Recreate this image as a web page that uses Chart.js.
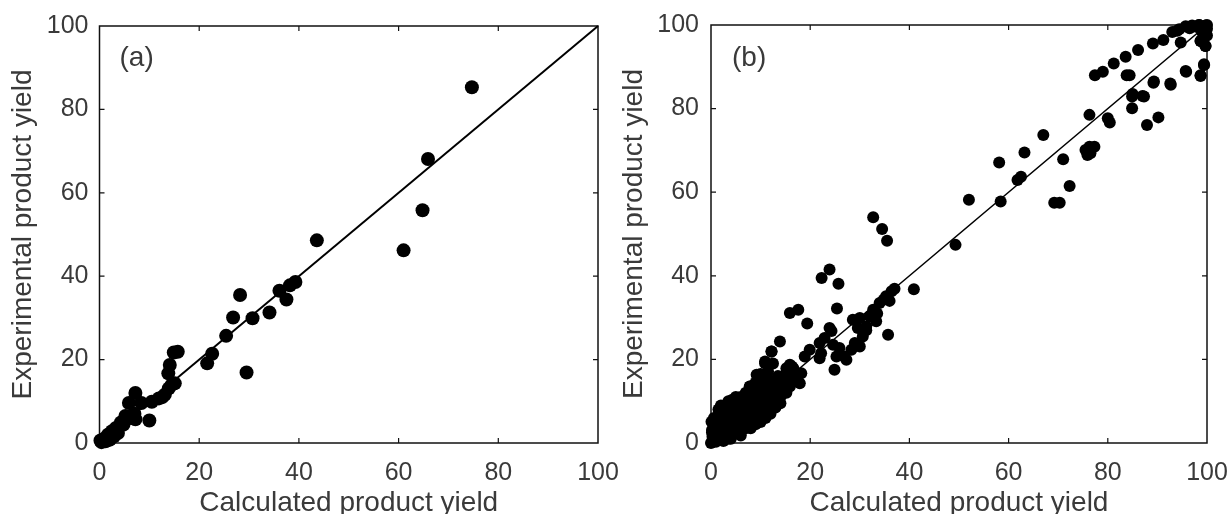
<!DOCTYPE html>
<html><head><meta charset="utf-8">
<script src="https://cdn.jsdelivr.net/npm/chart.js@4.4.0/dist/chart.umd.min.js"></script>
<style>
html,body{margin:0;padding:0;background:#fff;width:1228px;height:514px;overflow:hidden}
.box{position:absolute;top:0;height:514px}
</style></head><body>
<div class="box" style="left:0;width:660px"><canvas id="ca" width="660" height="514"></canvas></div>
<div class="box" style="left:614px;width:614px"><canvas id="cb" width="614" height="514"></canvas></div>
<script>
const axisMin = 0, axisMax = 100, tickStep = 20;
const tickValues = [0, 20, 40, 60, 80, 100];
const xTitle = "Calculated product yield";
const yTitle = "Experimental product yield";
const panelLabels = ["(a)", "(b)"];
const diagX = [0, 100];
const diagY = [0, 100];

// Panel (a): calculated vs experimental
const aCalc = [74.7,65.9,64.8,61.0,43.6,39.3,38.2,36.1,37.5,34.1,28.2,30.7,26.8,25.4,29.5,22.6,21.6,15.7,14.9,14.1,13.8,15.1,13.9,13.1,11.9,10.5,8.4,7.2,5.9,10.0,7.2,5.2,4.3,3.3,2.5,1.7,0.9,0.4,3.7,2.9,2.1,1.2,0.2,4.8,5.8,7.0,12.6,14.5];
const aExp  = [85.3,68.1,55.8,46.2,48.6,38.6,37.8,36.5,34.4,31.3,35.5,29.9,30.1,25.7,16.9,21.4,19.1,21.9,21.7,18.7,16.7,14.3,13.1,11.6,10.7,9.9,9.6,12.0,9.6,5.4,5.7,6.5,4.9,3.6,2.8,2.0,1.0,0.2,2.4,1.6,0.8,0.4,0.6,4.4,5.9,7.0,11.0,14.0];

// Panel (b)
const bCalc = [95.7,97.0,98.4,99.7,100,99.0,100,98.7,99.7,94.7,93.0,94.0,91.2,89.1,86.1,83.6,81.2,79.0,77.4,83.8,89.3,92.7,95.8,98.7,99.4,84.9,87.3,84.9,87.9,90.2,80.0,80.4,76.3,96.5,98.0,99.3,94.4,96.4,98.4,100,99.4,98.7,99.7,99.4,98.7,95.7,92.6,89.2,84.4,85.0,87.0,
67.0,63.2,61.8,62.5,58.1,58.4,52.0,71.0,72.3,69.2,70.3,75.5,76.3,77.3,75.9,76.5,49.3,32.7,34.5,35.5,40.9,
22.3,23.9,25.7,15.9,17.6,19.4,25.4,13.9,35.7,36.4,37.0,35.3,34.0,32.7,32.0,30.0,28.6,29.6,31.3,33.3,30.6,29.0,30.0,23.9,22.9,21.9,19.9,18.9,24.6,25.9,25.3,26.9,28.3,24.9,27.3,21.9,18.2,16.6,15.2,14.6,15.9,17.9,34.8,36.0,33.5,31.3,24.3,22.2,16.3,12.2,10.9,11.5,9.5,8.8,7.8,
15.9,15.2,13.9,12.9,15.9,15.2,13.2,11.9,10.5,9.2,4.5,3.5,2.5,0.5,0.2,1.8,5.8,7.2,11.2,
0,0.3,0.5,0.8,0.4,0.6,0.5,1.0,1.5,1.2,1.5,2.0,2.0,2.5,3.0,3.0,3.5,4.0,4.0,4.5,4.5,5.0,5.0,5.0,5.5,6.0,6.0,6.5,7.0,7.0,7.5,8.0,8.0,8.5,9.0,9.2,10.0,10.0,10.5,11.0,11.0,12.0,12.0,12.5,13.0,13.5,2.5,3.5,1.0,6.0,7.0,8.0,1.8,2.8,3.3,0.2,1.2,
1,1,2,2,2,3,3,3,3,4,4,4,4,5,5,5,5,6,6,6,6,7,7,7,7,8,8,8,8,9,9,9,9,10,10,10,10,11,11,11,12,12,12,13,13,14,14,14.5,16,17,13,11.5,10,12.5,9,2,4,6,1,0.3,0.6,2,3.5,1.5,17.2,14.6,0.1,4.2,7.9,9.2,10.9,12.2];
const bExp  = [99.7,99.9,100,99.9,99.1,98.3,97.5,96.2,95.0,95.8,98.3,98.6,96.4,95.6,94.0,92.4,90.8,88.8,88.0,88.0,86.5,85.7,88.8,88.0,90.4,82.9,82.9,80.1,76.1,77.9,77.7,76.7,78.5,99.2,99.5,97.0,99.0,99.6,100,100,98.2,96.2,95.0,90.6,87.8,89.0,86.0,86.2,88.0,83.5,83.0,
73.7,69.5,62.9,63.7,67.1,57.8,58.2,67.9,61.5,57.5,57.5,70.1,70.9,70.9,68.9,69.3,47.4,54.0,51.2,48.4,36.8,
39.5,41.5,38.1,31.1,31.9,28.6,32.2,24.3,25.9,36.3,36.9,35.1,33.5,31.9,30.3,29.9,29.5,27.5,27.9,29.1,25.5,23.9,23.1,27.5,25.1,23.9,22.3,20.7,23.5,22.7,20.7,20.7,22.3,17.5,19.9,20.3,16.7,17.9,17.9,15.9,14.3,14.3,34.3,34.0,31.0,27.0,26.8,21.5,18.3,21.9,19.5,17.1,15.9,13.9,13.5,
18.7,16.3,14.7,13.1,13.5,12.0,11.2,10.3,9.5,7.9,10.3,8.8,7.2,4.7,3.1,4.7,8.0,10.3,7.9,
0,0.5,1.2,2.0,3.0,4.0,5.0,4.5,5.0,3.0,1.5,1.0,2.5,3.5,2.0,4.5,6.0,3.0,5.0,8.0,10.0,9.5,7.0,4.0,3.0,5.0,8.0,10.0,6.0,4.0,8.0,5.5,10.5,7.0,4.5,8.0,6.0,9.5,11.0,7.0,13.0,9.0,11.0,13.0,10.5,16.0,0.5,1.0,0.3,2.5,3.5,4.0,6.0,7.0,8.5,2.5,1.8,
2,6,3,5,7,1.5,3,6,8,2,4,6,9,2.5,5.5,8,11,3,6,9,11,4.5,7,9,12,3.5,6.5,9,12,5.5,7.5,10,13,5,8,11,14,6,9,12,7,10,13,8.5,12,9.5,11,13,17,16,15,15,16.5,19,14.5,0.8,1,1.8,1,1.5,6,9,10,8,16.3,13.5,5.1,10.3,13.5,16.3,19.1,21.9];

const FONT = '"Liberation Sans", Arial, sans-serif';
const TXT = '#3a3a3a';

function pts(xs, ys){ return xs.map((v,i)=>({x:v, y:ys[i]})); }

const framePlugin = {
  id:'frame',
  beforeDatasetsDraw(chart, args, opts){
    const {ctx, chartArea:a, scales:{x,y}} = chart;
    ctx.save();
    ctx.strokeStyle = '#111'; ctx.lineWidth = 1.5;
    ctx.strokeRect(a.left, a.top, a.right-a.left, a.bottom-a.top);
    ctx.lineWidth = 1.2;
    tickValues.forEach(v=>{
      if (v===axisMin || v===axisMax) return;
      const px = x.getPixelForValue(v), py = y.getPixelForValue(v);
      ctx.beginPath();
      ctx.moveTo(px, a.bottom); ctx.lineTo(px, a.bottom-5);
      ctx.moveTo(px, a.top); ctx.lineTo(px, a.top+5);
      ctx.moveTo(a.left, py); ctx.lineTo(a.left+5, py);
      ctx.moveTo(a.right, py); ctx.lineTo(a.right-5, py);
      ctx.stroke();
    });
    ctx.fillStyle = TXT; ctx.font = '28px ' + FONT; ctx.textBaseline = 'alphabetic';
    ctx.fillText(opts.label, a.left + opts.dx, a.top + opts.dy);
    ctx.restore();
  }
};

function makeChart(id, xs, ys, cfg){
  return new Chart(document.getElementById(id), {
    data:{datasets:[
      {type:'scatter', data:pts(xs, ys), pointRadius:cfg.r, pointHoverRadius:cfg.r, backgroundColor:'#000', borderWidth:0, clip:false, order:0},
      {type:'line', data:pts(diagX, diagY), borderColor:'#000', borderWidth:cfg.lw, pointRadius:0, fill:false, clip:false, order:1}
    ]},
    options:{
      responsive:false, animation:false, events:[],
      layout:{padding:{top:cfg.top, right:cfg.right, left:0, bottom:0}},
      plugins:{legend:{display:false}, tooltip:{enabled:false}, frame:{label:cfg.label, dx:cfg.ldx, dy:cfg.ldy}},
      scales:{
        x:{type:'linear', min:axisMin, max:axisMax,
           ticks:{stepSize:tickStep, color:TXT, font:{family:FONT, size:25}, padding:cfg.xpad, maxRotation:0},
           grid:{display:false, drawTicks:false}, border:{display:false},
           title:{display:true, text:xTitle, color:TXT, font:{family:FONT, size:28, lineHeight:0.8}, padding:{top:0, bottom:cfg.xtb}},
           afterFit(s){ s.height = cfg.xh; s.paddingLeft = 0; s.paddingRight = 0; }},
        y:{type:'linear', min:axisMin, max:axisMax,
           ticks:{stepSize:tickStep, color:TXT, font:{family:FONT, size:25}, padding:cfg.ypad},
           grid:{display:false, drawTicks:false}, border:{display:false},
           title:{display:true, text:yTitle, color:TXT, font:{family:FONT, size:28, lineHeight:0.8}, padding:{top:cfg.ytt, bottom:0}},
           afterFit(s){ s.width = cfg.yw; s.paddingTop = 0; s.paddingBottom = 0; }}
      }
    },
    plugins:[framePlugin]
  });
}

makeChart('ca', aCalc, aExp, {r:7, lw:2, top:26, right:62, xh:71, yw:99.5, xpad:15, xtb:0, ypad:11, ytt:12, label:panelLabels[0], ldx:20, ldy:40});
makeChart('cb', bCalc, bExp, {r:6, lw:1.6, top:25, right:21, xh:71, yw:97, xpad:15, xtb:0, ypad:12, ytt:9, label:panelLabels[1], ldx:21, ldy:41});
</script>
</body></html>
